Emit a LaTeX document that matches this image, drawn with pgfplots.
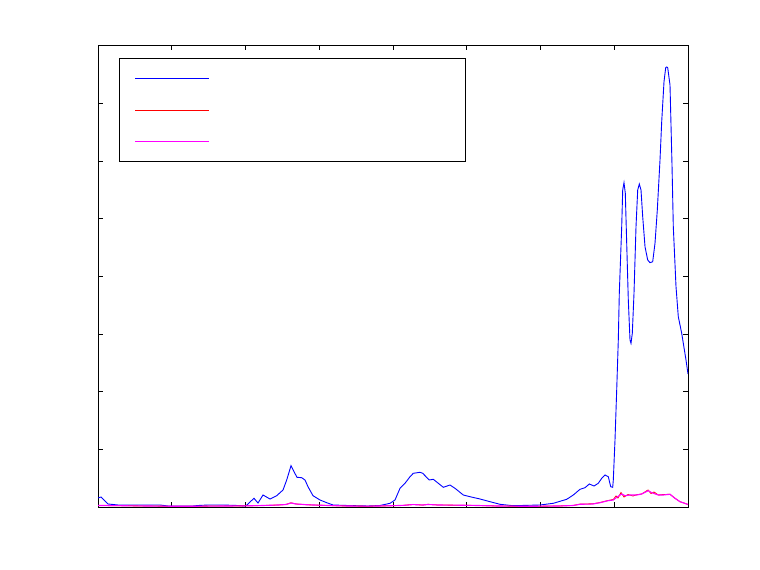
\documentclass[border=0pt]{standalone}
\usepackage{pgfplots}
\pgfplotsset{compat=1.18}
\definecolor{mag}{RGB}{255,0,255}
\definecolor{rd}{RGB}{255,0,0}
\definecolor{bl}{RGB}{0,0,255}
\begin{document}
\begin{tikzpicture}[x=1pt,y=1pt]
\path (-98pt,-63pt) rectangle (662pt,507pt);
\begin{axis}[
  at={(0pt,0pt)}, anchor=south west,
  scale only axis, width=590pt, height=461.5pt,
  xmin=0, xmax=590, ymin=0, ymax=461.5,
  xtick={0,73.75,...,590}, ytick={0,57.6875,...,461.5},
  xticklabels={}, yticklabels={},
  tick align=inside, major tick length=5pt,
  axis line style={line width=0.7pt},
  every tick/.style={black, line width=0.7pt},
  legend style={at={(axis description cs:0,1)}, anchor=north west,
    xshift=21.3pt, yshift=-12.8pt, draw=black, line width=0.7pt,
    inner xsep=0pt, inner ysep=4.4pt, row sep=0pt, column sep=0pt,
    nodes={inner sep=0pt, minimum width=255.3pt, minimum height=0pt}},
  legend cell align=left,
  legend image code/.code={
    \path[draw=none,fill=none] (-15.7pt,-15.65pt) rectangle (74pt,15.65pt);
    \draw (0pt,0pt) -- (74pt,0pt);},
]
\addplot[bl, line width=0.9pt] coordinates {
(0,9) (3,10) (6,7) (10,3) (20,2) (40,2) (62,2) (70,1) (95,1) (100,1.5) (110,2) (125,2) (140,1.5) (147,1)
(149,2) (152,5) (156,8.7) (160,4) (165,12) (172,8) (178.7,11.3) (185,17) (188.7,27) (193,41.3)
(196,35.3) (199,29.7) (203.7,29.3) (207,27) (210,20.3) (215,11.3) (222,7) (228.7,4.3) (235,2)
(250,1.5) (270,1) (282,1.5) (292,3.7) (297,7) (302,18.7) (307,23.7) (312,30.3) (315.3,33.7)
(322,34.7) (324.7,33.7) (331.3,27) (335.3,27.7) (340.3,23.7) (345.3,19.7) (352,22) (357,18.7)
(365.3,12) (372,10.3) (382,8) (392,5.3) (402,2.7) (415,1.3) (442,2) (455.3,3.7) (468.7,7.7)
(475.3,12) (482,17.7) (487,19.3) (491.3,23) (496,21) (500.3,23.7) (503.7,28.7) (507,32)
(510.3,30.3) (512.7,20.3) (514.7,19.7) (515.3,27) (517,67) (518.7,117) (520.3,167) (521.3,213.7)
(523.7,280.3) (524.7,317) (526,324.3) (527.3,313.7) (528.7,263.7) (530.3,207) (532,167) (533,163.7)
(534.3,173.7) (536,213.7) (538,280.3) (539.7,317) (541.3,323) (543,317) (544.7,290.3) (547,260.3)
(549.7,247) (552,244.3) (554.7,245.3) (557,263.7) (559.3,297) (562,347) (563.7,385.3) (566,425.3)
(567.7,439.3) (568.7,440) (569.7,439.3) (572,422) (574,342) (575.3,280.3) (578,220.3) (580.3,190.3)
(583.7,173.7) (588,147) (590,133)
};
\addlegendentry{\phantom{x}}
\addplot[rd, line width=0.8pt] coordinates {
(0,1.5) (10,1.4) (30,1.2) (50,1) (70,0.8) (90,0.7) (110,0.9) (130,1) (150,1.2) (165,1.5) (180,2)
(188,2.5) (193,4.2) (198,3) (210,2.2) (230,1.5) (250,1) (270,0.8) (290,1.2) (305,1.6) (315,2.6)
(320,2.2) (325,2.0) (330,2.7) (340,2) (360,1.8) (380,1.5) (400,1) (420,0.8) (440,0.8) (460,1)
(475,1.5) (482,2.9) (495,3.2) (502,4.5) (510,6.5) (515.3,7.5) (518,11) (520,9) (523,14.5) (526,10)
(530,12.5) (535,11) (538.7,12.3) (543.7,13) (550,17) (553,13.5) (556,15) (560.3,12) (565.3,12.5)
(572,12.7) (577,8.7) (582,5.3) (588.7,3) (590,2.5)
};
\addlegendentry{\phantom{x}}
\addplot[mag, line width=1.1pt] coordinates {
(0,1.5) (10,1.5) (30,1.2) (50,1) (70,0.8) (90,0.7) (110,0.9) (130,1) (150,1.2) (165,1.5) (180,2)
(188,2.5) (193,4) (198,3) (210,2.2) (230,1.5) (250,1) (270,0.8) (290,1.2) (305,1.6) (315,2.4)
(320,2.2) (325,2.0) (330,2.5) (340,2) (360,1.8) (380,1.5) (400,1) (420,0.8) (440,0.8) (460,1)
(475,1.5) (482,2.7) (495,3) (502,4.3) (510,6.3) (515.3,7) (518.7,9.7) (523.7,13) (527,11.3)
(532,12) (538.7,12) (543.7,13) (550.3,16.3) (553.7,14.3) (560.3,12) (565.3,12) (572,12.7)
(577,8.7) (582,5.3) (588.7,3) (590,2.5)
};
\addlegendentry{\phantom{x}}
\end{axis}
\end{tikzpicture}
\end{document}
